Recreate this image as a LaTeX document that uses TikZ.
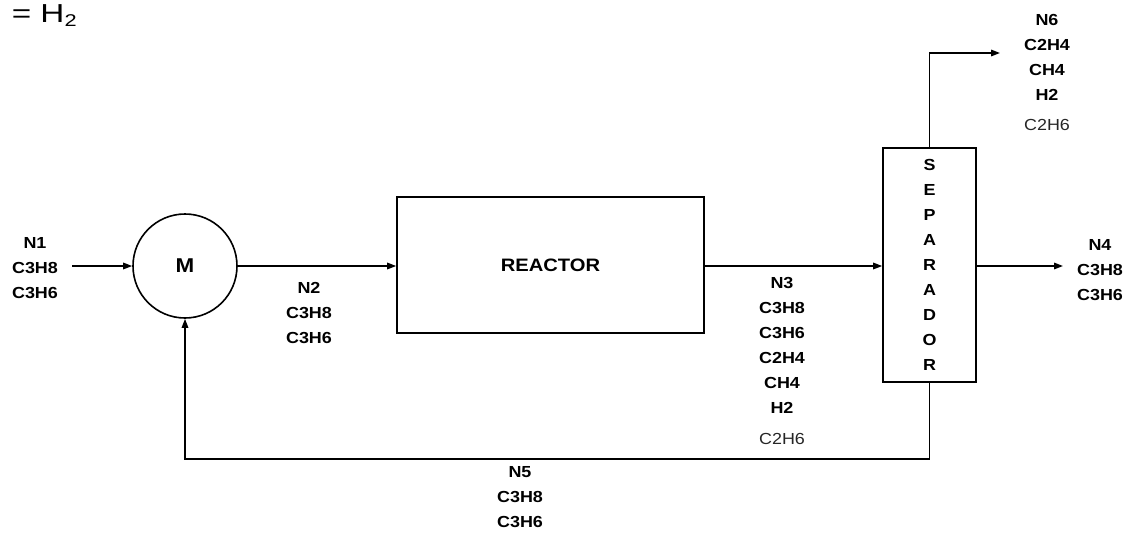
\documentclass[tikz,border=0pt]{standalone}
\usepackage{fontspec}
\setmainfont{Liberation Sans}
\newfontfamily\lblfont{Liberation Sans}[FakeStretch=1.12]
\newfontfamily\ttlfont{Liberation Sans}[FakeStretch=1.28]
\usetikzlibrary{arrows.meta}
\begin{document}
\begin{tikzpicture}[x=1pt,y=-1pt, line width=1.6pt,
  flow/.style={draw, -{Triangle[length=9pt,width=6.5pt]}},
  lbl/.style={font=\lblfont\bfseries\fontsize{16}{24.9}\selectfont, align=center, anchor=north, inner sep=0pt},
  unit/.style={draw, inner sep=0pt},
]
\useasboundingbox (0,0) rectangle (1132,535);

% title fragment
\node[anchor=base west, inner sep=0pt, font=\ttlfont\fontsize{26}{30}\selectfont] (title) at (11,23)
  {= H\raisebox{-4pt}{\ttlfont\fontsize{17}{17}\selectfont 2}};

% units
\node[unit, circle, minimum size=104pt, font=\lblfont\bfseries\fontsize{20}{24}\selectfont] (M) at (185,266) {M};
\node[unit, minimum width=307pt, minimum height=136pt, font=\lblfont\bfseries\fontsize{18}{22}\selectfont] (R) at (550.5,265) {REACTOR};
\node[unit, minimum width=93pt, minimum height=234pt, align=center,
      font=\lblfont\bfseries\fontsize{16}{25}\selectfont] (S) at (929.5,265)
  {S\\E\\P\\A\\R\\A\\D\\O\\R};

% free ends
\coordinate (n1) at (72,266);
\coordinate (n6) at (1000,53);
\coordinate (n4) at (1063,266);
\coordinate (b5) at (0,459);

% streams
\draw[flow] (n1) -- (n1 -| M.west);
\draw[flow] (M.east) -- (R.west |- M.east);
\draw[flow] (R.east |- M.east) -- (S.west |- M.east);
\draw[flow] (S.north) |- (n6);
\draw[flow] (S.east |- M.east) -- (n4);
\draw[flow] (S.south) -- (S.south |- b5) -- (M.south |- b5) -- (M.south);

% labels
\node[lbl] (L1) at (35,237) {N1\\C3H8\\C3H6};
\node[lbl] (L2) at (309,282) {N2\\C3H8\\C3H6};
\node[lbl] (L3) at (782,277) {N3\\C3H8\\C3H6\\C2H4\\CH4\\H2\\[6pt]{\normalfont\lblfont\color{black!85}C2H6}};
\node[lbl] (L6) at (1047,14) {N6\\C2H4\\CH4\\H2\\[5pt]{\normalfont\lblfont\color{black!85}C2H6}};
\node[lbl] (L4) at (1100,239) {N4\\C3H8\\C3H6};
\node[lbl] (L5) at (520,466) {N5\\C3H8\\C3H6};
\end{tikzpicture}
\end{document}
